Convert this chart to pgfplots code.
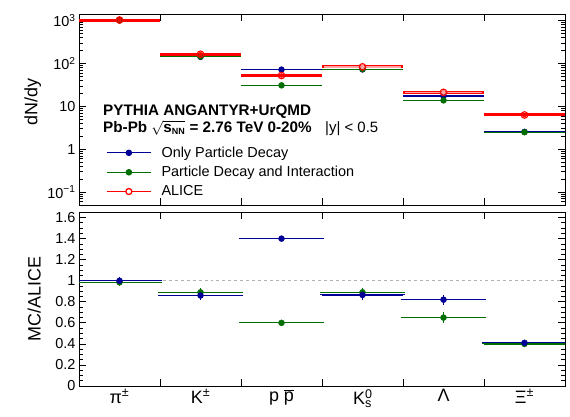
\documentclass[border=0pt]{standalone}
\usepackage{pgfplots}
\usepackage{pgfplotstable}
\pgfplotsset{compat=1.18}
\usepackage{fontspec}
\setmainfont{Liberation Sans}

\definecolor{mcblue}{RGB}{0,0,150}
\definecolor{mcgreen}{RGB}{0,110,0}
\definecolor{alicepink}{RGB}{250,165,165}

% dN/dy, top panel
\pgfplotstableread{
x    blue  green  alice
0.5  1020  1010   1035
1.5  143   146    165
2.5  72    31     52.5
3.5  73    74     83.5
4.5  17.4  13.8   21.2
5.5  2.55  2.5    6.3
}\yields

% boxed ALICE points (K0s, Lambda)
\pgfplotstableread{
x    alice
3.5  83.5
4.5  21.2
}\boxed

% MC/ALICE, bottom panel
\pgfplotstableread{
x    blue   eblue  green  egreen
0.5  1.00   0.02   0.985  0.02
1.5  0.86   0.02   0.89   0.02
2.5  1.40   0.005  0.60   0.005
3.5  0.865  0.03   0.89   0.025
4.5  0.82   0.03   0.65   0.03
5.5  0.41   0.01   0.40   0.01
}\ratios

\pgfplotsset{
  rootstyle/.style={
    scale only axis, width=486bp,
    xmin=0, xmax=6,
    tick align=inside, tick pos=both,
    axis line style={line width=0.9bp},
    every tick/.style={black, line width=0.7bp},
    major tick length=7bp, minor tick length=4bp,
    tick label style={font=\fontsize{14.5}{16}\selectfont},
    label style={font=\fontsize{18}{20}\selectfont},
    /pgf/number format/assume math mode=true,
  },
}

\begin{document}
\begin{tikzpicture}
\useasboundingbox (0bp,0bp) rectangle (570bp,-417bp);

\begin{axis}[rootstyle, name=top,
  at={(79bp,-14bp)}, anchor=north west, height=191bp,
  ymode=log, ymin=0.05, ymax=1430,
  xtick={1,...,5}, xticklabels={},
  ytick={0.1,1,10,100,1000},
  minor ytick={0.05,0.06,0.07,0.08,0.09,0.2,0.3,0.4,0.5,0.6,0.7,0.8,0.9,
    2,3,4,5,6,7,8,9,20,30,40,50,60,70,80,90,200,300,400,500,600,700,800,900},
  yticklabels={10\textsuperscript{−1},1,10,10\textsuperscript{2},10\textsuperscript{3}},
  ylabel={dN/dy},
  ylabel style={at={(axis description cs:-0.095,0.54)}, anchor=center},
  legend style={at={(axis description cs:0.0556,0.316)}, anchor=north west,
    draw=none, fill=none, inner sep=0pt, row sep=3.5bp,
    /tikz/every odd column/.append style={column sep=8bp},
    font=\fontsize{14.5}{16}\selectfont},
  legend cell align=left,
  legend image code/.code={
    \draw[#1] (0bp,0bp) -- (44bp,0bp);
    \path[#1] plot[mark=*] coordinates {(22bp,0bp)};},
]
\addlegendimage{draw=mcblue, fill=mcblue, line width=1.3bp, mark size=2.6bp}
\addlegendentry{Only Particle Decay}
\addlegendimage{draw=mcgreen, fill=mcgreen, line width=1.3bp, mark size=2.6bp}
\addlegendentry{Particle Decay and Interaction}
\addlegendimage{draw=red, fill=white, line width=1.3bp, mark size=3bp}
\addlegendentry{ALICE}

\addplot[mcblue, only marks, mark=*, mark size=3bp, forget plot,
  error bars/.cd, x dir=both, x fixed=0.5, error mark=none,
  error bar style={line width=1.2bp, draw=mcblue}]
  table[x=x, y=blue] {\yields};
\addplot[mcgreen, only marks, mark=*, mark size=3bp, forget plot,
  error bars/.cd, x dir=both, x fixed=0.5, error mark=none,
  error bar style={line width=1.2bp, draw=mcgreen}]
  table[x=x, y=green] {\yields};
\addplot[red, only marks, mark=none, forget plot,
  error bars/.cd, x dir=both, x fixed=0.5, error mark=none,
  error bar style={line width=3bp}]
  table[x=x, y=alice] {\yields};
\addplot[alicepink, only marks, mark=none, forget plot,
  error bars/.cd, x dir=both, x fixed=0.48, error mark=none,
  error bar style={line width=1.6bp}]
  table[x=x, y=alice] {\boxed};
\addplot[red, only marks, mark=o, mark size=3.3bp, forget plot,
  mark options={red, line width=1.1bp, fill=none}]
  table[x=x, y=alice] {\yields};
\end{axis}

\node[anchor=base west, inner sep=0pt, font=\bfseries\fontsize{15.3}{16}\selectfont]
  at (103bp,-115bp) {PYTHIA ANGANTYR+UrQMD};
\node[anchor=base west, inner sep=0pt, font=\bfseries\fontsize{15.3}{16}\selectfont]
  at (103bp,-132bp) {Pb-Pb \(\sqrt{\mbox{s}_{\mbox{\fontsize{9}{9}\selectfont NN}}}\) = 2.76 TeV 0-20\%};
\node[anchor=base west, inner sep=0pt, font=\fontsize{15}{16}\selectfont]
  at (325bp,-132bp) {|y| < 0.5};

\begin{axis}[rootstyle, name=bottom,
  at={(79bp,-212bp)}, anchor=north west, height=174bp,
  ymin=0, ymax=1.653,
  ytick={0,0.2,...,1.6}, minor y tick num=3,
  xtick={1,...,6},
  xticklabels={π\textsuperscript{±}, K\textsuperscript{±},
    p \(\overline{\mbox{p}}\), K\rlap{\textsuperscript{0}}\textsubscript{s},
    Λ, Ξ\textsuperscript{±}},
  x tick label style={xshift=-40.5bp, font=\fontsize{18}{20}\selectfont},
  ylabel={MC/ALICE},
  ylabel style={at={(axis description cs:-0.092,0.5)}, anchor=center},
]
\addplot[gray!60, dashed, line width=1bp] coordinates {(0,1) (6,1)};
\addplot[mcgreen, only marks, mark=*, mark size=3bp,
  error bars/.cd, x dir=both, x fixed=0.5, y dir=both, y explicit,
  error bar style={line width=1.2bp},
  error mark options={mark size=2bp, line width=1bp}]
  table[x=x, y=green, y error=egreen] {\ratios};
\addplot[mcblue, only marks, mark=*, mark size=3bp,
  error bars/.cd, x dir=both, x fixed=0.5, y dir=both, y explicit,
  error bar style={line width=1.2bp},
  error mark options={mark size=2bp, line width=1bp}]
  table[x=x, y=blue, y error=eblue] {\ratios};
\end{axis}
\end{tikzpicture}
\end{document}
